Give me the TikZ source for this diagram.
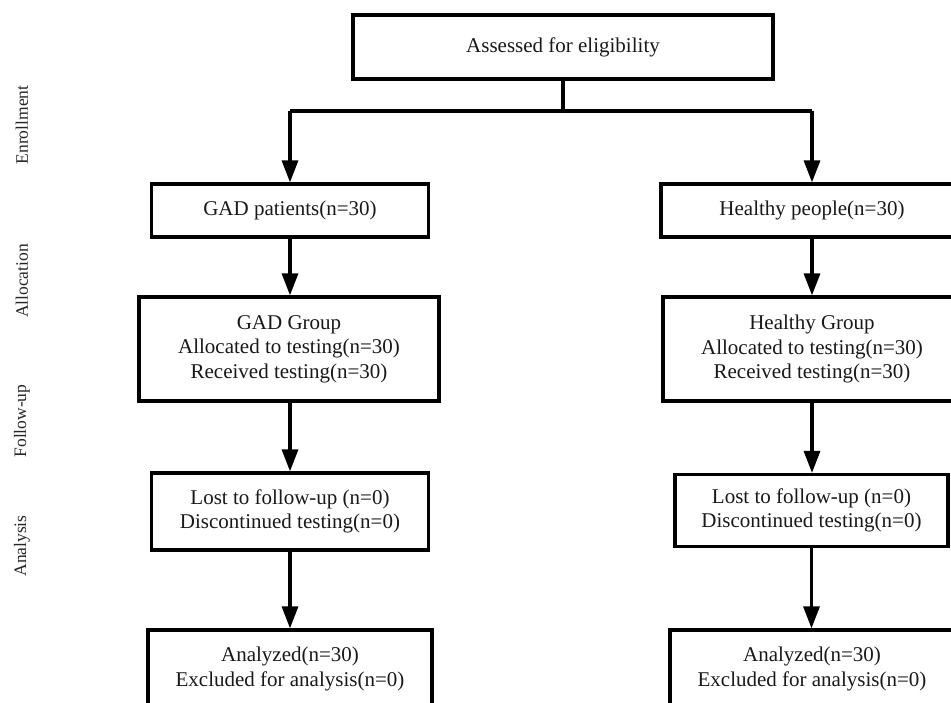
\documentclass[tikz,border=0pt]{standalone}
\usepackage{fontspec}
\setmainfont{Liberation Serif}
\usetikzlibrary{arrows.meta}
\tikzset{
  box/.style={draw=black, line width=3.2pt, align=center, inner sep=0pt,
    font=\fontsize{21pt}{24.5pt}\selectfont, text=black!90},
  arr/.style={line width=3.2pt, -{Triangle[length=22pt,width=16pt]}, draw=black, fill=black!85},
  conn/.style={line width=3.2pt, draw=black},
  phase/.style={rotate=90, font=\fontsize{17.5pt}{20pt}\selectfont, text=black!85, inner sep=0pt}
}
\begin{document}
\begin{tikzpicture}[x=1pt,y=-1pt]
\useasboundingbox (0,0) rectangle (951,703);
\clip (0,0) rectangle (951,703);
\fill[white] (0,0) rectangle (951,703);

% phase labels
\node[phase] (l1) at (22,125) {Enrollment};
\node[phase] (l2) at (22,281) {Allocation};
\node[phase] (l3) at (22,421) {Follow-up};
\node[phase] (l4) at (22,546) {Analysis};

% boxes
\node[box, minimum width=420pt, minimum height=64pt] (top) at (563,47) {Assessed for eligibility};

\node[box, minimum width=277pt, minimum height=53pt] (gad) at (290,210.5) {GAD patients(n=30)};
\node[box, minimum width=302pt, minimum height=53pt] (hp) at (812,210.5) {Healthy people(n=30)};

\node[box, minimum width=300pt, minimum height=104pt] (gadal) at (289,349) {GAD Group\\Allocated to testing(n=30)\\Received testing(n=30)};
\node[box, minimum width=298pt, minimum height=104pt] (hpal) at (812,349) {Healthy Group\\Allocated to testing(n=30)\\Received testing(n=30)};

\node[box, minimum width=277pt, minimum height=77pt] (gadfu) at (290,511.5) {Lost to follow-up (n=0)\\Discontinued testing(n=0)};
\node[box, minimum width=273pt, minimum height=72pt] (hpfu) at (811.5,510.5) {Lost to follow-up (n=0)\\Discontinued testing(n=0)};

\node[box, minimum width=284pt, minimum height=78pt] (gadan) at (290,669) {Analyzed(n=30)\\Excluded for analysis(n=0)};
\node[box, minimum width=284pt, minimum height=78pt] (hpan) at (812,669) {Analyzed(n=30)\\Excluded for analysis(n=0)};

% connectors
\coordinate (jl) at (290,111);
\coordinate (jr) at (812,111);
\draw[conn] (top.south) -- (top.south |- jl);
\draw[conn] (jl) -- (jr);
\draw[arr] (jl) -- (gad.north);
\draw[arr] (jr) -- (hp.north);

\draw[arr] (gad.south) -- (gad.south |- gadal.north);
\draw[arr] (hp.south) -- (hpal.north);
\draw[arr] (gadal.south -| gad.south) -- (gadfu.north);
\draw[arr] (hpal.south) -- (hpal.south |- hpfu.north);
\draw[arr] (gadfu.south) -- (gadan.north);
\draw[arr] (hpfu.south) -- (hpfu.south |- hpan.north);
\end{tikzpicture}
\end{document}
